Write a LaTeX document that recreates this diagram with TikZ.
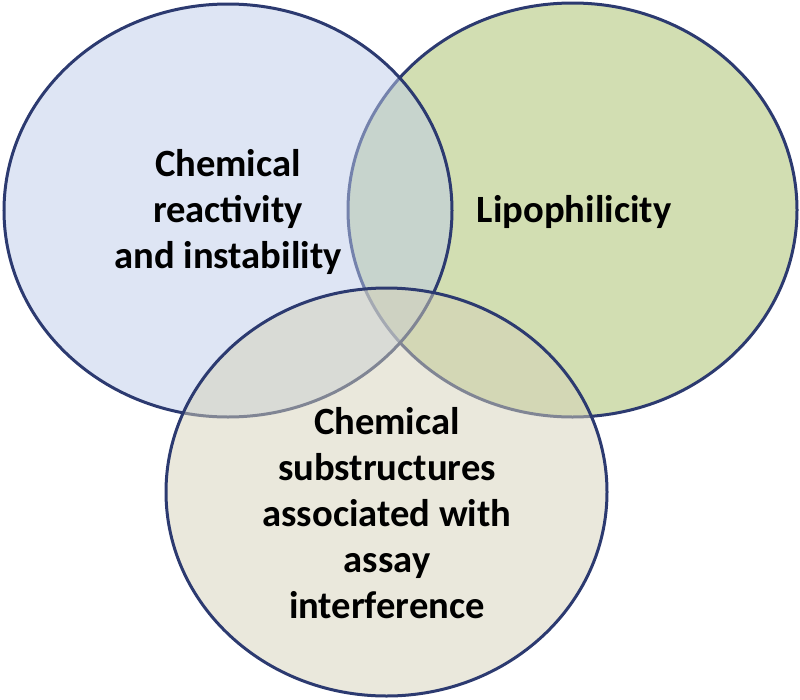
\documentclass[tikz,border=0pt]{standalone}
\usepackage{fontspec}
\setmainfont{Carlito}
\usetikzlibrary{shapes.geometric}
\definecolor{ringline}{RGB}{44,58,112}
\definecolor{bluefill}{RGB}{189,203,233}
\definecolor{greenfill}{RGB}{165,189,101}
\definecolor{beigefill}{RGB}{213,209,185}
\tikzset{
  setring/.style={ellipse, inner sep=0pt, draw=ringline, line width=3pt,
    fill opacity=0.5, draw opacity=1, text opacity=1},
  setlabel/.style={align=center, anchor=base, inner sep=0pt,
    font=\fontsize{38.6}{46}\selectfont\bfseries, text=black}
}
\begin{document}
\begin{tikzpicture}[x=1pt,y=-1pt]
\useasboundingbox (0,0) rectangle (800,699);
\node[setring, fill=greenfill, minimum width=449pt, minimum height=414pt] (green) at (572.5,210) {};
\node[setring, fill=bluefill, minimum width=448pt, minimum height=413pt] (blue) at (228,210.5) {};
\node[setring, fill=beigefill, minimum width=441pt, minimum height=408pt] (beige) at (386.5,492) {};
\node[setlabel] (reactivity) at (228,268) {Chemical\\reactivity\\and instability};
\node[setlabel] (lipo) at (574,222) {Lipophilicity};
\node[setlabel] (substructures) at (387,618) {Chemical\\substructures\\associated with\\assay\\interference};
\end{tikzpicture}
\end{document}
